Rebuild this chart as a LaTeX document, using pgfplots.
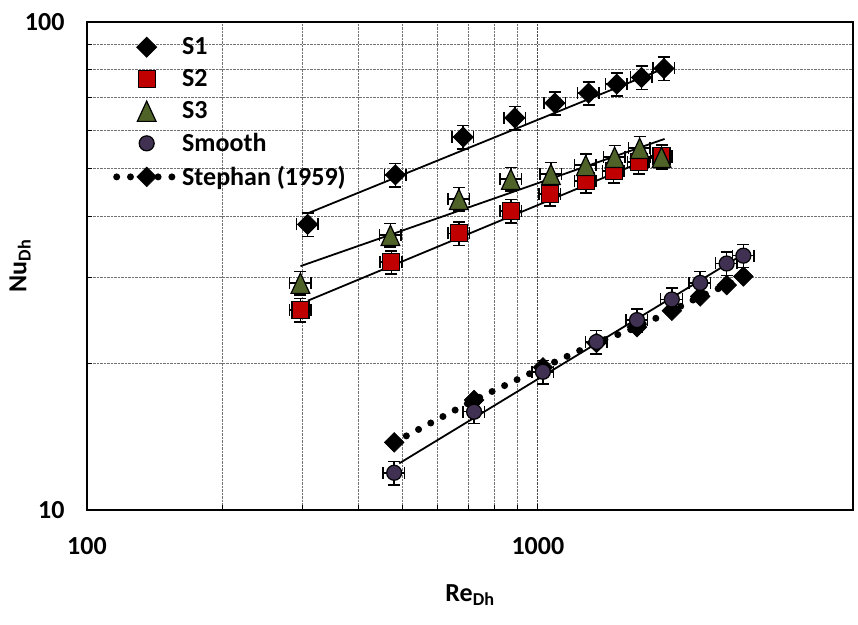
\documentclass[border=0pt]{standalone}
\usepackage{fontspec}
\setmainfont{Carlito}
\usepackage{pgfplots}
\pgfplotsset{compat=1.18}
\definecolor{sred}{RGB}{192,0,0}
\definecolor{sgreen}{RGB}{79,98,40}
\definecolor{spurple}{RGB}{64,49,82}
\newcommand{\bigf}{\bfseries\fontsize{26}{31}\selectfont}
\pgfplotsset{
  mleg/.style={legend image code/.code={\draw[##1,only marks] plot coordinates {(22pt,0pt)};}},
  sleg/.style={legend image code/.code={\draw[##1] (-8pt,0pt) -- (52pt,0pt); \draw[##1,only marks] plot coordinates {(22pt,0pt)};}},
  ebars/.style={error bars/.cd, x dir=both, y dir=both, x fixed relative=0.055, y fixed relative=0.055,
    error bar style={line width=1.5pt, black},
    error mark options={rotate=90, mark size=6pt, line width=1.5pt, black}},
}
\begin{document}
\begin{tikzpicture}[x=1pt,y=1pt]
\path[use as bounding box] (-87,-114) rectangle (771,510);
\begin{axis}[
  at={(0,0)}, anchor=south west,
  scale only axis, width=766pt, height=488pt,
  xmode=log, ymode=log,
  xmin=100, xmax=5000, ymin=10, ymax=100,
  xtick={100,1000}, xticklabels={100,1000},
  ytick={10,100}, yticklabels={10,100},
  ticklabel style={font=\bigf},
  xticklabel style={yshift=-24pt},
  yticklabel style={xshift=-19pt},
  grid=both,
  major grid style={densely dotted, black!70, line width=1pt},
  minor grid style={densely dotted, black!55, line width=0.9pt},
  tick align=inside, tick pos=left,
  major tick length=6pt, minor tick length=5pt,
  tick style={black, line width=1pt},
  axis line style={line width=2.5pt},
  xlabel={Re\textsubscript{Dh}}, ylabel={Nu\textsubscript{Dh}},
  label style={font=\bigf},
  xlabel style={at={(axis description cs:0.5,-0.174)}, anchor=center},
  ylabel style={at={(axis description cs:-0.0875,0.5)}, anchor=center},
  legend style={at={(axis description cs:0.030,0.976)}, anchor=north west, draw=none, fill=none, font=\bigf, row sep=9.3pt},
  legend cell align=left,
]
% Stephan (drawn first, behind Smooth)
\addplot[forget plot, black, line width=7pt, dash pattern=on 0pt off 13.8pt, line cap=round,
  mark=square*, mark size=7pt, mark options={rotate=45, solid, fill=black, draw=black, line width=0.5pt}]
coordinates {(480,13.76) (722,16.8) (1026,19.6) (1349,22.0) (1659,23.7) (1982,25.6) (2291,27.4) (2623,28.9) (2856,30.1)};

\addplot[mleg, only marks, mark=square*, mark size=7pt, mark options={rotate=45, fill=black, draw=black, line width=1pt}, ebars]
coordinates {(308.6,38.5) (483,48.6) (683,58.1) (889,63.6) (1091,68.2) (1296,71.5) (1496,74.6) (1698,77.0) (1904,80.3)};
\addlegendentry{S1}

\addplot[mleg, only marks, mark=square*, mark size=8.5pt, mark options={fill=sred, draw=black, line width=1.2pt}, ebars]
coordinates {(297.4,25.7) (473,32.2) (668,36.9) (871,41.0) (1063,44.4) (1277,47.2) (1473,49.5) (1673,51.6) (1881,53.1)};
\addlegendentry{S2}

\addplot[mleg, only marks, mark=triangle*, mark size=10.8pt, mark options={fill=sgreen, draw=black, line width=1.2pt, yscale=1.25, yshift=-3pt}, ebars]
coordinates {(297.4,29.2) (471,36.6) (668,43.4) (871,47.7) (1069,48.8) (1277,50.9) (1480,52.9) (1682,55.2) (1881,52.9)};
\addlegendentry{S3}

\addplot[mleg, only marks, mark=*, mark size=7.5pt, mark options={fill=spurple, draw=black, line width=1.2pt}, ebars]
coordinates {(480,11.92) (722,15.9) (1026,19.2) (1349,22.1) (1659,24.5) (1982,27.0) (2291,29.2) (2623,32.0) (2856,33.2)};
\addlegendentry{Smooth}

\addlegendimage{sleg, black, line width=7pt, dash pattern=on 0pt off 13.8pt, line cap=round, mark=square*, mark size=7pt, mark options={rotate=45, solid, fill=black, draw=black, line width=0.5pt}}
\addlegendentry{Stephan (1959)}

% fit lines
\addplot[forget plot, black, line width=1.8pt, mark=none] coordinates {(308.9,40.55) (1949,81.0)};
\addplot[forget plot, black, line width=1.8pt, mark=none] coordinates {(308.9,26.85) (1806,52.9)};
\addplot[forget plot, black, line width=1.8pt, mark=none] coordinates {(297.5,31.6) (1910,57.6)};
\addplot[forget plot, black, line width=1.8pt, mark=none] coordinates {(492.5,12.46) (2881,33.6)};
\end{axis}
\end{tikzpicture}
\end{document}
